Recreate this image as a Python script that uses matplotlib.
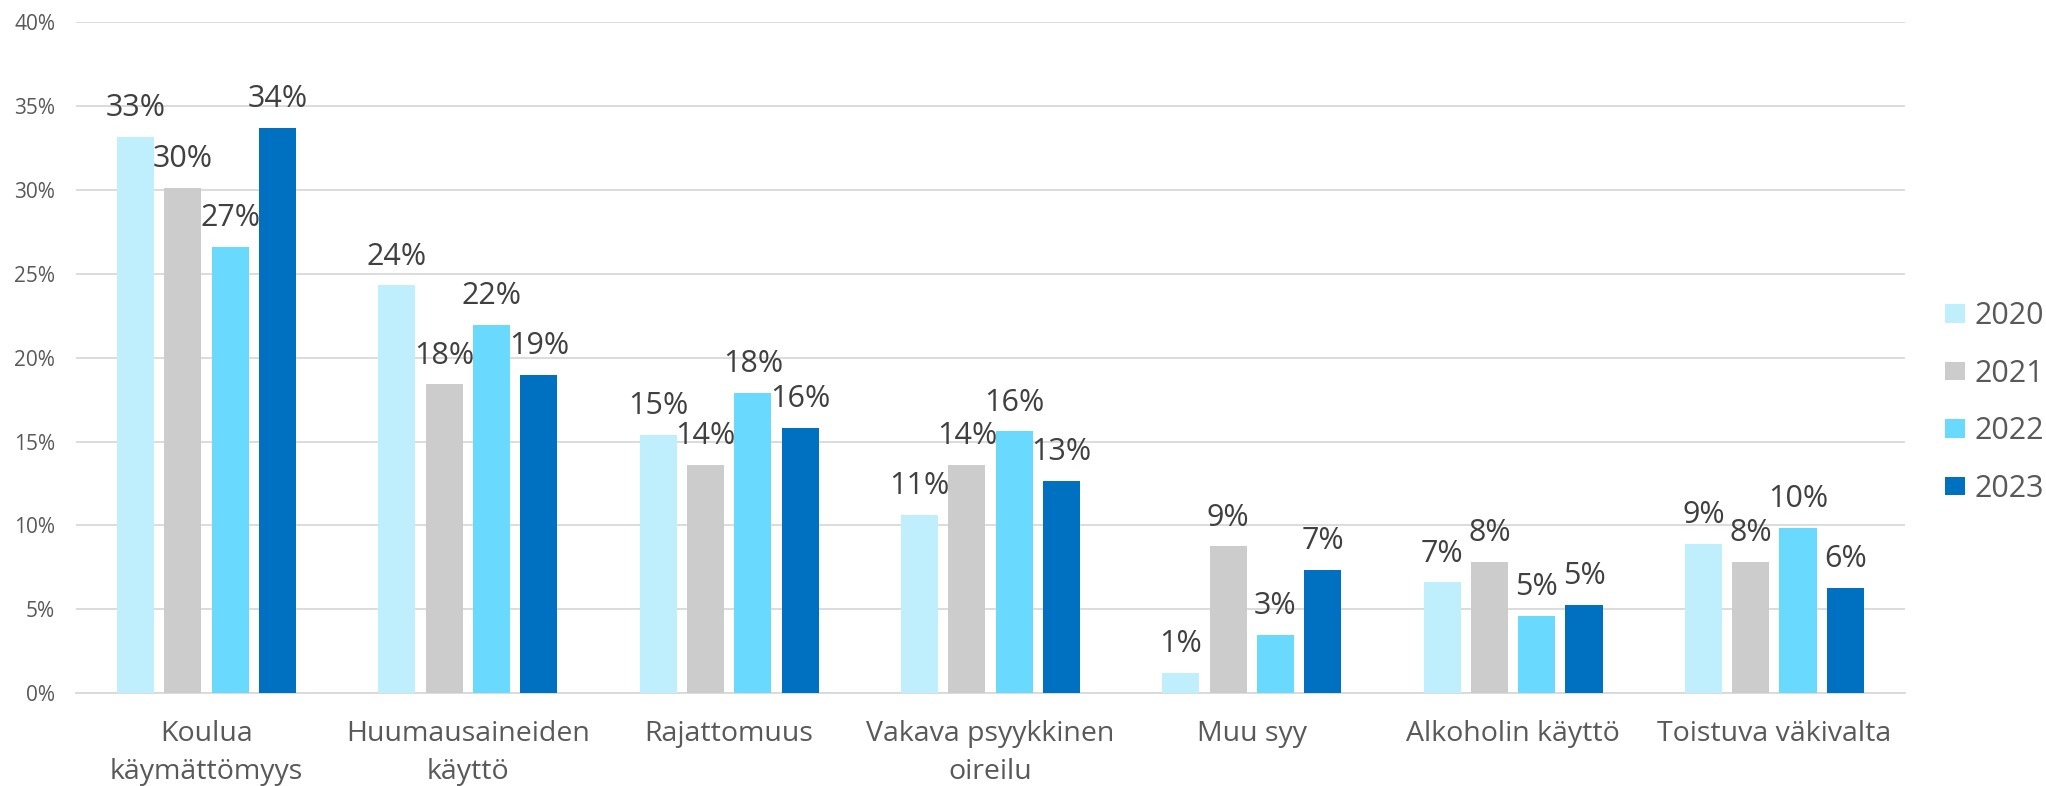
import matplotlib.pyplot as plt
import numpy as np

categories = ['Koulua\nkäymättömyys', 'Huumausaineiden\nkäyttö', 'Rajattomuus',
              'Vakava psyykkinen\noireilu', 'Muu syy', 'Alkoholin käyttö', 'Toistuva väkivalta']
years = ['2020', '2021', '2022', '2023']
v2020 = [33.15, 24.3, 15.4, 10.65, 1.2, 6.6, 8.9]
v2021 = [30.1, 18.4, 13.6, 13.6, 8.75, 7.8, 7.8]
v2022 = [26.6, 21.95, 17.9, 15.6, 3.45, 4.6, 9.85]
v2023 = [33.7, 18.95, 15.8, 12.65, 7.35, 5.25, 6.3]
colors = ['#BFEFFC', '#CCCCCC', '#69DAFE', '#0070C0']

plt.rcParams['font.family'] = ['Open Sans', 'DejaVu Sans']

fig = plt.figure(figsize=(20.46, 7.86), dpi=100)
ax = fig.add_axes([0.0371, 0.118, 0.894, 0.854])

x = np.arange(len(categories))
pitch = 0.181
width = 0.142
series = [v2020, v2021, v2022, v2023]
for j, vals in enumerate(series):
    pos = x + (j - 1.5) * pitch
    ax.bar(pos, vals, width, color=colors[j], label=years[j], zorder=3)
    for px, v in zip(pos, vals):
        ax.annotate('{:.0f}%'.format(v), (px, v), xytext=(0, 10), textcoords='offset points',
                    ha='center', va='bottom', fontsize=22, color='#404040', zorder=4)

ax.set_xlim(-0.5, len(categories) - 0.5)
ax.set_ylim(0, 40)
ax.set_yticks(range(0, 41, 5))
ax.set_yticklabels(['{}%'.format(t) for t in range(0, 41, 5)], fontsize=15, color='#595959')
ax.set_xticks(x)
ax.set_xticklabels(categories, fontsize=20.5, color='#595959', linespacing=1.5)
ax.tick_params(axis='both', length=0)
ax.tick_params(axis='x', pad=19)
ax.tick_params(axis='y', pad=15)
ax.yaxis.grid(True, color='#D9D9D9', linewidth=1.3, zorder=0)
for s in ['top', 'right', 'left']:
    ax.spines[s].set_visible(False)
ax.spines['bottom'].set_color('#D9D9D9')
ax.spines['bottom'].set_linewidth(1.3)

fig.legend(loc='center left', bbox_to_anchor=(1945 / 2046, 0.488), bbox_transform=fig.transFigure,
           frameon=False, fontsize=22, labelcolor='#595959', borderpad=0, borderaxespad=0,
           handlelength=0.65, handleheight=0.55, handletextpad=0.3, labelspacing=0.9)

fig.savefig('out.png', dpi=100)
